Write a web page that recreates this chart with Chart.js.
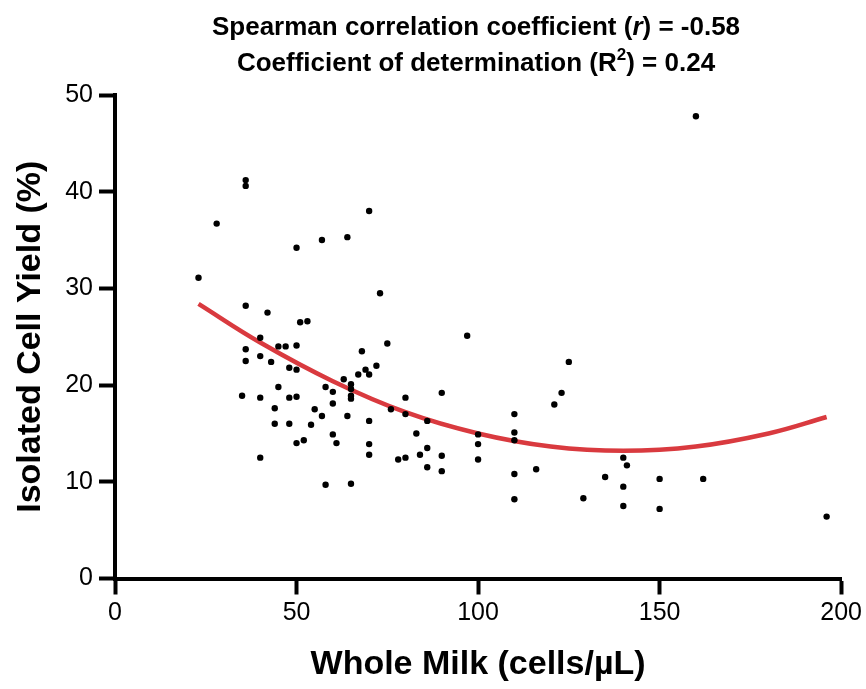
<!DOCTYPE html>
<html>
<head>
<meta charset="utf-8">
<script src="https://cdn.jsdelivr.net/npm/chart.js@4.4.1/dist/chart.umd.min.js"></script>
<style>
  body { margin: 0; background: #fff; }
  #wrap { width: 866px; height: 689px; }
</style>
</head>
<body>
<div id="wrap"><canvas id="milkChart" width="866" height="689"></canvas></div>
<script>
// whole milk count (cells/uL) vs isolated cell yield (%)
var milkX = [36, 36, 28, 50, 57, 64, 23, 36, 42, 51, 53, 70, 73,
  40, 36, 45, 47, 50, 40, 36, 43, 48, 50, 63, 65, 67, 45, 58, 60,
  65, 65, 65, 35, 40, 48, 50, 60, 44, 55, 57, 64, 44, 48, 54, 60,
  61, 50, 52, 40, 58, 65, 97, 75, 68, 69, 70, 72, 70, 80, 76, 80,
  86, 90, 83, 70, 70, 78, 80, 84, 86, 86, 90, 90, 100, 100, 100,
  110, 110, 110, 110, 110, 116, 125, 123, 121, 140, 141, 135, 129,
  140, 140, 150, 150, 162, 196, 160];
var yieldY = [41.2, 40.6, 36.7, 34.2, 35.0, 35.3, 31.1, 28.2, 27.5, 26.5, 26.6, 38.0, 29.5,
  24.9, 23.7, 24.0, 24.0, 24.1, 23.0, 22.5, 22.4, 21.8, 21.6, 20.6, 20.1, 21.1, 19.8, 19.8, 19.3,
  19.6, 18.9, 18.6, 18.9, 18.7, 18.7, 18.8, 18.1, 17.6, 17.5, 16.8, 16.8, 16.0, 16.0, 15.9, 14.9,
  14.0, 14.0, 14.3, 12.5, 9.7, 9.8, 25.1, 24.3, 23.5, 21.6, 21.1, 22.0, 16.3, 18.7, 17.5, 17.0,
  16.3, 19.2, 15.0, 13.9, 12.8, 12.3, 12.5, 12.8, 13.5, 11.5, 12.7, 11.1, 14.9, 13.9, 12.3,
  17.0, 15.1, 14.3, 10.8, 8.2, 11.3, 22.4, 19.2, 18.0, 12.5, 11.7, 10.5, 8.3,
  9.5, 7.5, 10.3, 7.2, 10.3, 6.4, 47.8];

// fitted curve
var fitX = [23, 40, 60, 80, 100, 120, 140, 160, 180, 196];
var fitY = [28.4, 24.4, 20.4, 17.2, 15.0, 13.65, 13.2, 13.65, 15.0, 16.7];

var xTicks = [0, 50, 100, 150, 200];
var yTicks = [0, 10, 20, 30, 40, 50];

var points = milkX.map(function (x, i) { return { x: x, y: yieldY[i] }; });
var fitLine = fitX.map(function (x, i) { return { x: x, y: fitY[i] }; });

var FONT = "'Liberation Sans', Arial, sans-serif";

// two-line title with italic r and superscript 2
var titlePlugin = {
  id: 'twoLineTitle',
  afterDraw: function (chart) {
    var ctx = chart.ctx;
    var cx = 476;
    function drawParts(parts, baseY) {
      var total = 0;
      parts.forEach(function (p) {
        ctx.font = p.font;
        p.w = ctx.measureText(p.t).width;
        total += p.w;
      });
      var x = cx - total / 2;
      parts.forEach(function (p) {
        ctx.font = p.font;
        ctx.fillText(p.t, x, baseY + (p.dy || 0));
        x += p.w;
      });
    }
    ctx.save();
    ctx.fillStyle = '#000';
    ctx.textBaseline = 'alphabetic';
    ctx.textAlign = 'left';
    var b = 'bold 26px ' + FONT;
    drawParts([
      { t: 'Spearman correlation coefficient (', font: b },
      { t: 'r', font: 'italic bold 26px ' + FONT },
      { t: ') = -0.58', font: b }
    ], 35);
    drawParts([
      { t: 'Coefficient of determination (R', font: b },
      { t: '2', font: 'bold 17px ' + FONT, dy: -11 },
      { t: ') = 0.24', font: b }
    ], 71);
    ctx.restore();
  }
};

new Chart(document.getElementById('milkChart'), {
  type: 'scatter',
  data: {
    datasets: [{
      label: 'samples',
      data: points,
      pointRadius: 3.2,
      pointBackgroundColor: '#000',
      pointBorderWidth: 0,
      showLine: false
    }, {
      label: 'fit',
      data: fitLine,
      showLine: true,
      borderColor: '#d93a3f',
      borderWidth: 4.5,
      pointRadius: 0,
      tension: 0.4,
      fill: false
    }]
  },
  options: {
    responsive: false,
    animation: false,
    layout: { padding: { top: 95, right: 24, left: 0, bottom: 0 } },
    plugins: { legend: { display: false }, tooltip: { enabled: false }, title: { display: false } },
    scales: {
      x: {
        type: 'linear',
        min: 0, max: 200,
        afterBuildTicks: function (s) { s.ticks = xTicks.map(function (v) { return { value: v }; }); },
        afterFit: function (s) { s.height = 110.5; },
        border: { display: true, color: '#000', width: 4 },
        grid: { display: true, drawOnChartArea: false, drawTicks: true, tickLength: 16, tickWidth: 4, tickColor: '#000' },
        ticks: { color: '#000', font: { family: FONT, size: 25 }, padding: 4, maxRotation: 0 },
        title: { display: true, text: 'Whole Milk (cells/µL)', color: '#000', font: { family: FONT, size: 34, weight: 'bold' }, padding: { top: 0, bottom: 4 } }
      },
      y: {
        type: 'linear',
        min: 0, max: 50,
        afterBuildTicks: function (s) { s.ticks = yTicks.map(function (v) { return { value: v }; }); },
        afterFit: function (s) { s.width = 115; },
        border: { display: true, color: '#000', width: 4 },
        grid: { display: true, drawOnChartArea: false, drawTicks: true, tickLength: 16, tickWidth: 4, tickColor: '#000' },
        ticks: { color: '#000', font: { family: FONT, size: 25 }, padding: 6 },
        title: { display: true, text: 'Isolated Cell Yield (%)', color: '#000', font: { family: FONT, size: 34, weight: 'bold' }, padding: { top: 10, bottom: 0 } }
      }
    }
  },
  plugins: [titlePlugin]
});
</script>
</body>
</html>
